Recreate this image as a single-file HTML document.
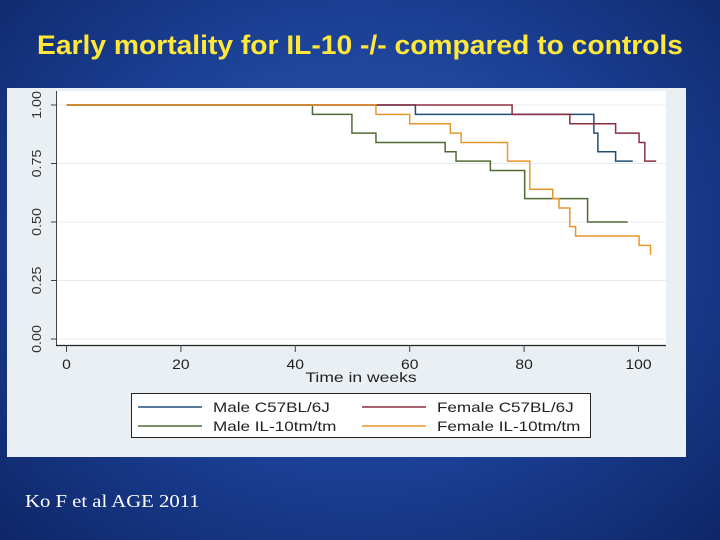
<!DOCTYPE html>
<html><head><meta charset="utf-8"><style>
body{margin:0;width:720px;height:540px;overflow:hidden;background:radial-gradient(ellipse at 50% 45%,#2d5fb8 0%,#1a3f93 55%,#0f2668 100%);font-family:"Liberation Sans",sans-serif;position:relative}
#title{position:absolute;left:0;width:720px;top:30px;text-align:center;color:#ffe83a;font-weight:bold;font-size:27px;transform:scaleX(1.045);transform-origin:360px 0}
#foot{position:absolute;left:25px;top:491px;color:#fff;font-family:"Liberation Serif",serif;font-size:18px;transform:scaleX(1.15);transform-origin:0 0}
svg{position:absolute;left:0;top:0}
</style></head><body>
<div id="title">Early mortality for IL-10 -/- compared to controls</div>
<div id="foot">Ko F et al AGE 2011</div>
<svg width="720" height="540" id="c">
<rect x="7" y="88" width="679" height="369" fill="#e9eff3"/>
<rect x="57" y="91" width="609" height="254" fill="#fff"/>
</svg>
<script>
const xTicks=[0,20,40,60,80,100];
const yTicks=[0,0.25,0.5,0.75,1];
const yLabels=["0.00","0.25","0.50","0.75","1.00"];
const seriesNames=["Male C57BL/6J","Female C57BL/6J","Male IL-10tm/tm","Female IL-10tm/tm"];
const maleCT=[0,61,92.2,92.9,96,99];
const maleCS=[1,0.96,0.88,0.80,0.76,0.76];
const femCT=[0,77.9,88,96,100.1,101.1,103.1];
const femCS=[1,0.96,0.92,0.88,0.84,0.76,0.76];
const maleIT=[0,43,49.9,54.1,66.2,68.1,74.1,80.1,91.1,98.1];
const maleIS=[1,0.96,0.88,0.84,0.80,0.76,0.72,0.60,0.50,0.50];
const femIT=[0,54.1,60,67.1,69,77.1,81,85,86.1,88,89,100.1,102.1];
const femIS=[1,0.96,0.92,0.88,0.84,0.76,0.64,0.60,0.56,0.48,0.44,0.40,0.36];
const colors=["#1f4e79","#8b2d3e","#4f6b34","#e8962a"];
const X=v=>66.5+v*5.72, Y=v=>339-v*234;
const svg=document.getElementById('c');const NS="http://www.w3.org/2000/svg";
function mk(t,a,p){const e=document.createElementNS(NS,t);for(const k in a)e.setAttribute(k,a[k]);(p||svg).appendChild(e);return e;}
function stretch(t,f){const w=t.getComputedTextLength();t.setAttribute('textLength',w*f);t.setAttribute('lengthAdjust','spacingAndGlyphs');}
yTicks.forEach((v,i)=>{
 const g=mk('line',{x1:57,x2:666,y1:Y(v),y2:Y(v),stroke:'#e6ecef','stroke-width':1});
 
 
 const t=mk('line',{x1:51,x2:57,y1:Y(v),y2:Y(v),stroke:'#444'});
 
 
 const l=mk('text',{x:0,y:0,transform:`translate(41,${Y(v)}) rotate(-90)`,'text-anchor':'middle','font-size':13,fill:'#333'});
 l.textContent=yLabels[i];
 
 
 stretch(l,1.1);
});
const ya=mk('line',{x1:56.5,x2:56.5,y1:91,y2:345,stroke:'#444'});


const xa=mk('line',{x1:56,x2:666,y1:345.5,y2:345.5,stroke:'#222','stroke-width':1.3});


xTicks.forEach(v=>{
 const t=mk('line',{x1:X(v),x2:X(v),y1:345,y2:352,stroke:'#444'});
 
 
 const l=mk('text',{x:X(v),y:369,'text-anchor':'middle','font-size':14,fill:'#222'});
 l.textContent=v;
 
 
 stretch(l,1.12);
});
const xt=mk('text',{x:361,y:382,'text-anchor':'middle','font-size':14,fill:'#222'});
xt.textContent='Time in weeks';


stretch(xt,1.25);
[[maleCT,maleCS],[femCT,femCS],[maleIT,maleIS],[femIT,femIS]].forEach((s,i)=>{
 const [T,S]=s;let d=`M${X(T[0])},${Y(S[0])}`;
 for(let k=1;k<T.length;k++){d+=` H${X(T[k])} V${Y(S[k])}`;}
 const p=mk('path',{d:d,fill:'none',stroke:colors[i],'stroke-width':1.5});
 
 
});
const lg=mk('rect',{x:131.5,y:393.5,width:459,height:44,fill:'#fff',stroke:'#222'});


seriesNames.forEach((n,i)=>{
 const cx=i%2?362:138, cy=i<2?407:426;
 const ln=mk('line',{x1:cx,x2:cx+64,y1:cy,y2:cy,stroke:colors[i],'stroke-width':1.5});
 
 
 const t=mk('text',{x:cx+75,y:cy+5,'font-size':14,fill:'#222'});
 t.textContent=n;
 
 
 stretch(t,1.22);
});
</script>
</body></html>
